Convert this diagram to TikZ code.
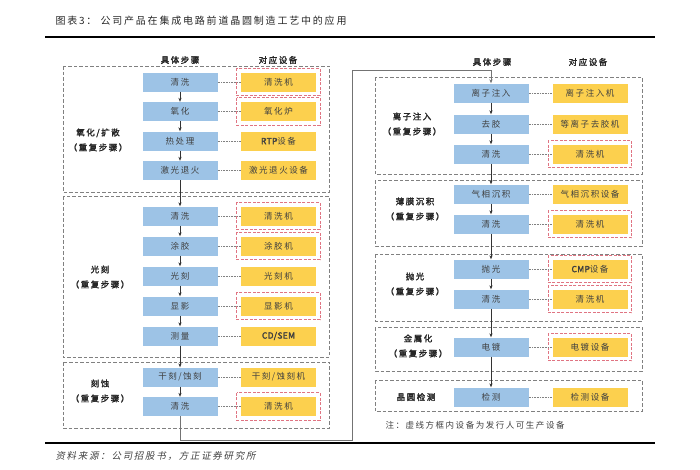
\documentclass[tikz,border=0pt]{standalone}
\usepackage{fontspec}
\setmainfont{Noto Sans CJK SC}
\newfontfamily\boxfont{Noto Sans CJK SC}[LetterSpace=18, AutoFakeBold=2, AutoFakeSlant=0.2]
\newfontfamily\latinfont{Noto Sans CJK SC}[LetterSpace=4, AutoFakeBold=2.5]
\usetikzlibrary{arrows.meta}

\definecolor{stepblue}{HTML}{9DC3E6}
\definecolor{equipgold}{HTML}{FCD04E}
\definecolor{framegray}{HTML}{808080}
\definecolor{ownred}{HTML}{E07482}
\definecolor{textgray}{HTML}{404040}

\begin{document}
\begin{tikzpicture}[x=1pt, y=-1pt, >={Stealth[length=4pt, width=3.2pt]},
  stepbox/.style={fill=stepblue, minimum width=75, minimum height=19, inner sep=0pt, text=textgray, font=\boxfont\fontsize{8.5}{10}\selectfont},
  equipbox/.style={fill=equipgold, minimum width=75, minimum height=19, inner sep=0pt, text=textgray, font=\boxfont\fontsize{8.5}{10}\selectfont},
  groupframe/.style={draw=framegray, dash pattern=on 3.5pt off 2pt, line width=0.7pt},
  ownframe/.style={draw=ownred, dash pattern=on 3pt off 1.5pt, line width=0.7pt},
  link/.style={draw=framegray, densely dotted, line width=0.6pt},
  flow/.style={draw=black!80, line width=0.6pt, ->},
  grouplabel/.style={align=center, text=black!85, font=\boxfont\bfseries\fontsize{8.5}{15}\selectfont},
  colhead/.style={text=black!85, font=\boxfont\bfseries\fontsize{8.5}{10}\selectfont}]
  \useasboundingbox (0,0) rectangle (700,469);

  % --- 标题与横线 ---
  \node[anchor=west, text=black!85, font=\boxfont\fontsize{10}{12}\selectfont] (title) at (52,21) {图表3：\ 公司产品在集成电路前道晶圆制造工艺中的应用};
  \draw[line width=1.5pt] (45,37) -- (655,37);
  \draw[line width=1.8pt] (45,443) -- (655,443);
  \node[anchor=west, text=textgray, font=\boxfont\itshape\fontsize{9.5}{11}\selectfont] (source) at (52,456) {资料来源：公司招股书，方正证券研究所};

  % --- 左列：氧化/扩散 ---
  \node[colhead] (lh1) at (180,60) {具体步骤};
  \node[colhead] (lh2) at (278,60) {对应设备};
  \draw[groupframe] (63,66) rectangle (329,192);
  \node[grouplabel] (lg1) at (98,140) {氧化/扩散\\（重复步骤）};
  \node[stepbox] (ls1) at (180,82) {清洗};
  \node[stepbox] (ls2) at (180,111.5) {氧化};
  \node[stepbox] (ls3) at (180,141) {热处理};
  \node[stepbox] (ls4) at (180,170.5) {激光退火};
  \node[equipbox] (le1) at (278.5,82) {清洗机};
  \node[equipbox] (le2) at (278.5,111.5) {氧化炉};
  \node[equipbox] (le3) at (278.5,141) {{\latinfont\bfseries RTP}设备};
  \node[equipbox] (le4) at (278.5,170.5) {激光退火设备};
  \draw[ownframe] ([shift={(-4,-4)}]le1.north west) rectangle ([shift={(4,4)}]le1.south east);
  \draw[ownframe] ([shift={(-4,-4)}]le2.north west) rectangle ([shift={(4,4)}]le2.south east);

  % --- 左列：光刻 ---
  \draw[groupframe] (63,196) rectangle (329,357);
  \node[grouplabel] (lg2) at (100,277) {光刻\\（重复步骤）};
  \node[stepbox] (ls5) at (180,216) {清洗};
  \node[stepbox] (ls6) at (180,246) {涂胶};
  \node[stepbox] (ls7) at (180,276) {光刻};
  \node[stepbox] (ls8) at (180,306) {显影};
  \node[stepbox] (ls9) at (180,336) {测量};
  \node[equipbox] (le5) at (278.5,216) {清洗机};
  \node[equipbox] (le6) at (278.5,246) {涂胶机};
  \node[equipbox] (le7) at (278.5,276) {光刻机};
  \node[equipbox] (le8) at (278.5,306) {显影机};
  \node[equipbox] (le9) at (278.5,336) {{\latinfont\bfseries CD/SEM}};
  \draw[ownframe] ([shift={(-4,-4)}]le5.north west) rectangle ([shift={(4,4)}]le5.south east);
  \draw[ownframe] ([shift={(-4,-4)}]le6.north west) rectangle ([shift={(4,4)}]le6.south east);
  \draw[ownframe] ([shift={(-4,-4)}]le8.north west) rectangle ([shift={(4,4)}]le8.south east);

  % --- 左列：刻蚀 ---
  \draw[groupframe] (63,362) rectangle (329,428);
  \node[grouplabel] (lg3) at (100,391) {刻蚀\\（重复步骤）};
  \node[stepbox] (ls10) at (180,377) {干刻/蚀刻};
  \node[stepbox] (ls11) at (180,406.5) {清洗};
  \node[equipbox] (le10) at (278.5,377) {干刻/蚀刻机};
  \node[equipbox] (le11) at (278.5,406.5) {清洗机};
  \draw[ownframe] ([shift={(-4,-4)}]le11.north west) rectangle ([shift={(4,4)}]le11.south east);

  % --- 右列：离子注入 ---
  \node[colhead] (rh1) at (492,62) {具体步骤};
  \node[colhead] (rh2) at (588,62) {对应设备};
  \draw[groupframe] (375,77) rectangle (642,174);
  \node[grouplabel] (rg1) at (412,124) {离子注入\\（重复步骤）};
  \node[stepbox] (rs1) at (491,93) {离子注入};
  \node[stepbox] (rs2) at (491,124) {去胶};
  \node[stepbox] (rs3) at (491,154) {清洗};
  \node[equipbox] (re1) at (590,93) {离子注入机};
  \node[equipbox] (re2) at (590,124) {等离子去胶机};
  \node[equipbox] (re3) at (590,154) {清洗机};
  \draw[ownframe] ([shift={(-4,-4)}]re3.north west) rectangle ([shift={(4,4)}]re3.south east);

  % --- 右列：薄膜沉积 ---
  \draw[groupframe] (375,180) rectangle (642,246);
  \node[grouplabel] (rg2) at (415,209) {薄膜沉积\\（重复步骤）};
  \node[stepbox] (rs4) at (491,194) {气相沉积};
  \node[stepbox] (rs5) at (491,224) {清洗};
  \node[equipbox] (re4) at (590,194) {气相沉积设备};
  \node[equipbox] (re5) at (590,224) {清洗机};
  \draw[ownframe] ([shift={(-4,-4)}]re5.north west) rectangle ([shift={(4,4)}]re5.south east);

  % --- 右列：抛光 ---
  \draw[groupframe] (375,254) rectangle (642,321);
  \node[grouplabel] (rg3) at (415,284) {抛光\\（重复步骤）};
  \node[stepbox] (rs6) at (491,269) {抛光};
  \node[stepbox] (rs7) at (491,299) {清洗};
  \node[equipbox] (re6) at (590,269) {{\latinfont\bfseries CMP}设备};
  \node[equipbox] (re7) at (590,299) {清洗机};
  \draw[ownframe] ([shift={(-4,-4)}]re6.north west) rectangle ([shift={(4,4)}]re6.south east);
  \draw[ownframe] ([shift={(-4,-4)}]re7.north west) rectangle ([shift={(4,4)}]re7.south east);

  % --- 右列：金属化、晶圆检测 ---
  \draw[groupframe] (375,327) rectangle (642,371);
  \node[grouplabel] (rg4) at (418,346) {金属化\\（重复步骤）};
  \node[stepbox] (rs8) at (491,347) {电镀};
  \node[equipbox] (re8) at (590,347) {电镀设备};
  \draw[ownframe] ([shift={(-4,-4)}]re8.north west) rectangle ([shift={(4,4)}]re8.south east);
  \draw[groupframe] (375,380) rectangle (642,411);
  \node[grouplabel] (rg5) at (416,397) {晶圆检测};
  \node[stepbox] (rs9) at (491,397) {检测};
  \node[equipbox] (re9) at (590,397) {检测设备};
  \node[anchor=west, text=textgray, font=\boxfont\fontsize{8.5}{10}\selectfont] (note) at (382,425) {注：虚线方框内设备为发行人可生产设备};

  % --- 步骤与设备之间的虚线 ---
  \draw[link] (ls1) -- (le1);
  \draw[link] (ls2) -- (le2);
  \draw[link] (ls3) -- (le3);
  \draw[link] (ls4) -- (le4);
  \draw[link] (ls5) -- (le5);
  \draw[link] (ls6) -- (le6);
  \draw[link] (ls7) -- (le7);
  \draw[link] (ls8) -- (le8);
  \draw[link] (ls9) -- (le9);
  \draw[link] (ls10) -- (le10);
  \draw[link] (ls11) -- (le11);
  \draw[link] (rs1) -- (re1);
  \draw[link] (rs2) -- (re2);
  \draw[link] (rs3) -- (re3);
  \draw[link] (rs4) -- (re4);
  \draw[link] (rs5) -- (re5);
  \draw[link] (rs6) -- (re6);
  \draw[link] (rs7) -- (re7);
  \draw[link] (rs8) -- (re8);
  \draw[link] (rs9) -- (re9);

  % --- 工艺流程箭头 ---
  \draw[flow] (ls1) -- (ls2);
  \draw[flow] (ls2) -- (ls3);
  \draw[flow] (ls3) -- (ls4);
  \draw[flow] (ls4) -- (ls5);
  \draw[flow] (ls5) -- (ls6);
  \draw[flow] (ls6) -- (ls7);
  \draw[flow] (ls7) -- (ls8);
  \draw[flow] (ls8) -- (ls9);
  \draw[flow] (ls9) -- (ls10);
  \draw[flow] (ls10) -- (ls11);
  \draw[flow, draw=black!55, line width=0.9pt] (ls11.south) -- ++(0,24.5) -| (352,70) -| (rs1.north);
  \draw[flow] (rs1) -- (rs2);
  \draw[flow] (rs2) -- (rs3);
  \draw[flow] (rs3) -- (rs4);
  \draw[flow] (rs4) -- (rs5);
  \draw[flow] (rs5) -- (rs6);
  \draw[flow] (rs6) -- (rs7);
  \draw[flow] (rs7) -- (rs8);
  \draw[flow] (rs8) -- (rs9);
\end{tikzpicture}
\end{document}
